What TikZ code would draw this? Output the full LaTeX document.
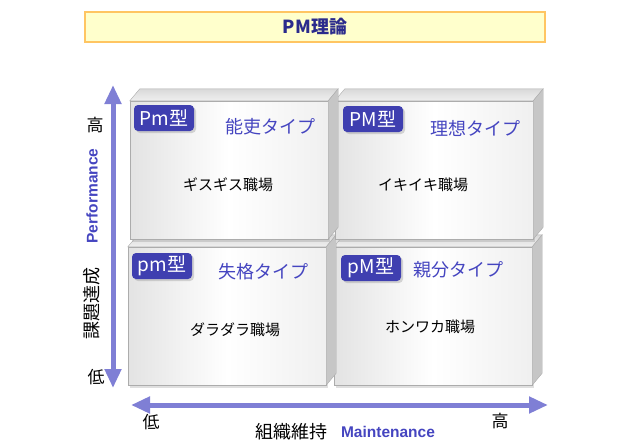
\documentclass[tikz,border=0pt]{standalone}
\usepackage{fontspec}
\setmainfont{Noto Sans CJK JP}
\newfontfamily\latin{Liberation Sans}
\usetikzlibrary{arrows.meta,shadows}
\definecolor{axisblue}{HTML}{7F7FD5}
\definecolor{badgeblue}{HTML}{3F3FB0}
\definecolor{typeblue}{HTML}{4545C0}
\definecolor{titlenavy}{HTML}{2B2B8C}
\definecolor{titlefill}{HTML}{FFFFCC}
\definecolor{titledraw}{HTML}{FFC562}

\begin{document}
\begin{tikzpicture}[x=1pt, y=-1pt,
  face/.style={draw=gray!65, left color=gray!22, right color=gray!12, middle color=white,
    minimum width=198pt, minimum height=138pt, inner sep=0pt,
    drop shadow={shadow xshift=2pt, shadow yshift=-3pt, opacity=0.25}},
  lid/.style={draw=gray!65, top color=gray!30, bottom color=gray!12},
  side/.style={draw=gray!65, fill=gray!45},
  badge/.style={fill=badgeblue, text=white, rounded corners=4pt, minimum width=60pt,
    minimum height=26pt, inner sep=1pt, font=\fontsize{19}{19}\selectfont,
    drop shadow={shadow xshift=2pt, shadow yshift=-2pt, opacity=0.3}},
  kind/.style={text=typeblue, font=\fontsize{18}{18}\selectfont},
  place/.style={font=\fontsize{15}{15}\selectfont},
  tick/.style={font=\fontsize{17}{17}\selectfont},
  axis/.style={draw=axisblue, line width=5pt,
    {Triangle[width=16pt,length=19pt]}-{Triangle[width=16pt,length=19pt]}}
]
\useasboundingbox (0,0) rectangle (630,447);

% title
\node[draw=titledraw, line width=1.5pt, fill=titlefill, minimum width=460pt, minimum height=30pt,
  text=titlenavy, font=\fontsize{18}{18}\selectfont\bfseries] (title) at (315,27) {PM理論};

% boxes
\foreach \n/\x/\y in {pM/433/316, pm/227/316, PM/434/170, Pm/229/170} {
  \node[face] (\n) at (\x,\y) {};
  \draw[lid] (\n.north west) -- ++(10,-12) -- ([shift={(10,-12)}]\n.north east) -- (\n.north east) -- cycle;
  \draw[side] (\n.north east) -- ++(10,-12) -- ([shift={(10,-12)}]\n.south east) -- (\n.south east) -- cycle;
}

\node[badge] (Pmb) at (164,118) {Pm型};
\node[badge] (PMb) at (373,119) {PM型};
\node[badge] (pmb) at (162,266) {pm型};
\node[badge] (pMb) at (371,268) {pM型};

\node[kind] (Pmk) at (270,127) {能吏タイプ};
\node[kind] (PMk) at (475,128) {理想タイプ};
\node[kind] (pmk) at (263,272) {失格タイプ};
\node[kind] (pMk) at (458,270) {親分タイプ};

\node[place] (Pmp) at (228,185) {ギスギス職場};
\node[place] (PMp) at (423,185) {イキイキ職場};
\node[place] (pmp) at (235,330) {ダラダラ職場};
\node[place] (pMp) at (430,327) {ホンワカ職場};

% axes
\coordinate (ytop) at (113,85);
\coordinate (ybot) at (113,388);
\coordinate (xlow) at (131,405);
\coordinate (xhigh) at (548,405);
\draw[axis] (ybot) -- (ytop);
\draw[axis] (xlow) -- (xhigh);

\node[tick] (yhi) at (95,125) {高};
\node[tick] (ylo) at (96,377) {低};
\node[rotate=90, text=typeblue, font=\latin\fontsize{15.5}{15.5}\selectfont\bfseries] (perf) at (92,196) {Performance};
\node[rotate=90, font=\fontsize{18}{18}\selectfont] (task) at (92,303) {課題達成};
\node[tick] (xlo) at (151,422) {低};
\node[tick] (xhi) at (500,421) {高};
\node[font=\fontsize{18}{18}\selectfont] (keep) at (291,432) {組織維持};
\node[text=typeblue, font=\latin\fontsize{15.5}{15.5}\selectfont\bfseries] (maint) at (388,432) {Maintenance};
\end{tikzpicture}
\end{document}
